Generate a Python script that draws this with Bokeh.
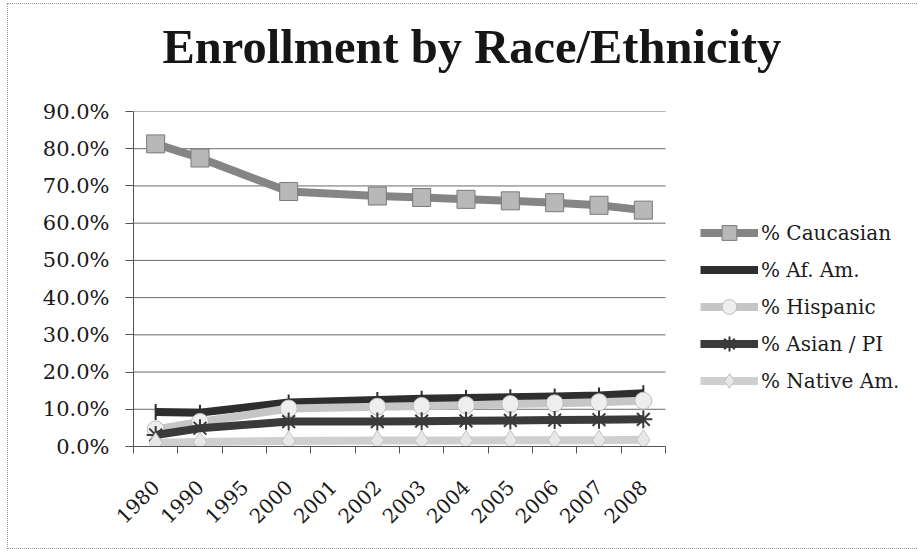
import math
from bokeh.plotting import figure
from bokeh.models import (Range1d, FixedTicker, PrintfTickFormatter, Legend,
                          LegendItem, ColumnDataSource, Title)
from bokeh.embed import file_html
from bokeh.resources import INLINE

# Enrollment share by race/ethnicity (percent); None = no data that year
years = ["1980", "1990", "1995", "2000", "2001", "2002", "2003",
         "2004", "2005", "2006", "2007", "2008"]
caucasian = [81.3, 77.5, None, 68.5, None, 67.3, 66.9, 66.4, 66.0, 65.5, 64.8, 63.5]
af_am = [9.3, 9.1, None, 11.8, None, 12.5, 12.8, 13.0, 13.2, 13.4, 13.7, 14.3]
hispanic = [4.6, 6.6, None, 10.2, None, 10.7, 10.9, 11.1, 11.4, 11.6, 11.9, 12.3]
asian_pi = [3.1, 4.9, None, 6.7, None, 6.7, 6.8, 6.9, 7.0, 7.1, 7.2, 7.3]
native_am = [1.0, 1.2, None, 1.5, None, 1.6, 1.6, 1.6, 1.7, 1.7, 1.7, 1.8]
y_ticks = [0, 10, 20, 30, 40, 50, 60, 70, 80, 90]

LABEL_FONT = "DejaVu Serif"

# page geometry (px): the frame runs to the right edge so the legend can sit
# beside the plotted region; the data region itself ends at DATA_RIGHT
FRAME_LEFT, DATA_RIGHT, PAGE_RIGHT = 133, 665, 918
n = len(years)
x_end = n * (PAGE_RIGHT - FRAME_LEFT) / (DATA_RIGHT - FRAME_LEFT)

p = figure(width=910, height=544, output_backend="svg", toolbar_location=None,
           x_range=Range1d(0, x_end), y_range=Range1d(0, 90),
           min_border_left=FRAME_LEFT - 8, min_border_right=0,
           min_border_top=107, min_border_bottom=102)
p.margin = (4, 0, 4, 8)
p.styles = {"outline": "1px dotted #9a9a9a"}
p.outline_line_color = None
p.background_fill_color = "white"
p.border_fill_color = "white"

p.title.text = "Enrollment by Race/Ethnicity"
p.title.text_font = "Liberation Serif"
p.title.text_font_style = "bold"
p.title.text_font_size = "48.5px"
p.title.text_color = "#161616"
p.title.align = "left"
p.title.offset = 29
p.title.standoff = 4
# blank title panel between heading and frame, used only as vertical spacing
p.add_layout(Title(text=" ", text_font_size="1px", standoff=34), "above")

# category centres carry the labels, category boundaries carry the tick marks
centres = [i + 0.5 for i in range(n)]
bounds = list(range(n + 1))
xa = p.xaxis[0]
xa.bounds = (0, n)
xa.ticker = FixedTicker(ticks=centres, minor_ticks=bounds)
xa.major_label_overrides = {c: y for c, y in zip(centres, years)}
xa.major_label_orientation = math.pi / 4
xa.major_label_text_font = LABEL_FONT
xa.major_label_text_font_size = "20px"
xa.major_label_text_color = "#1a1a1a"
xa.major_label_standoff = 30
xa.major_tick_in = 0
xa.major_tick_out = 0
xa.minor_tick_in = 0
xa.minor_tick_out = 7
xa.minor_tick_line_color = "#555555"
xa.axis_line_color = "#555555"

ya = p.yaxis[0]
ya.ticker = FixedTicker(ticks=y_ticks)
ya.formatter = PrintfTickFormatter(format="%.1f%%")
ya.major_label_text_font = LABEL_FONT
ya.major_label_text_font_size = "21px"
ya.major_label_text_color = "#1a1a1a"
ya.major_label_standoff = 16
ya.major_tick_in = 0
ya.major_tick_out = 8
ya.major_tick_line_color = "#555555"
ya.minor_tick_line_color = None
ya.axis_line_color = "#555555"

# horizontal gridlines across the category span only
p.xgrid.visible = False
p.ygrid.visible = False
p.segment(x0=[0] * len(y_ticks), x1=[n] * len(y_ticks), y0=y_ticks, y1=y_ticks,
          line_color="#6a6a6a", line_width=1)

series = [
    ("% Caucasian", caucasian, "#858585", "square", 18, "#b8b8b8", "#7a7a7a"),
    ("% Af. Am.", af_am, "#2e2e2e", "dash", 16, "#2e2e2e", "#2e2e2e"),
    ("% Hispanic", hispanic, "#c6c6c6", "circle", 17, "#eeeeee", "#bdbdbd"),
    ("% Asian / PI", asian_pi, "#3a3a3a", "asterisk", 18, "#3a3a3a", "#3a3a3a"),
    ("% Native Am.", native_am, "#cfcfcf", "diamond", 20, "#e8e8e8", "#c2c2c2"),
]

items = []
for name, vals, lc, marker, size, fc, oc in series:
    xs = [c for c, v in zip(centres, vals) if v is not None]
    ys = [v for v in vals if v is not None]
    src = ColumnDataSource(dict(x=xs, y=ys))
    ln = p.line("x", "y", source=src, line_width=8, line_color=lc,
                line_join="round")
    sc = p.scatter("x", "y", source=src, marker=marker, size=size,
                   angle=math.pi / 2 if marker == "dash" else 0,
                   fill_color=fc, line_color=oc,
                   line_width=2 if marker in ("dash", "asterisk") else 1)
    items.append(LegendItem(label=name, renderers=[ln, sc]))

legend = Legend(items=items, location=(700 - FRAME_LEFT, 47), orientation="vertical",
                glyph_width=58, glyph_height=37, label_height=37, spacing=0,
                label_standoff=3, padding=0, margin=0,
                label_text_font=LABEL_FONT, label_text_font_size="20px",
                label_text_color="#1a1a1a",
                border_line_color=None, background_fill_alpha=0)
p.add_layout(legend)

open("out.html", "w").write(file_html(p, INLINE))
